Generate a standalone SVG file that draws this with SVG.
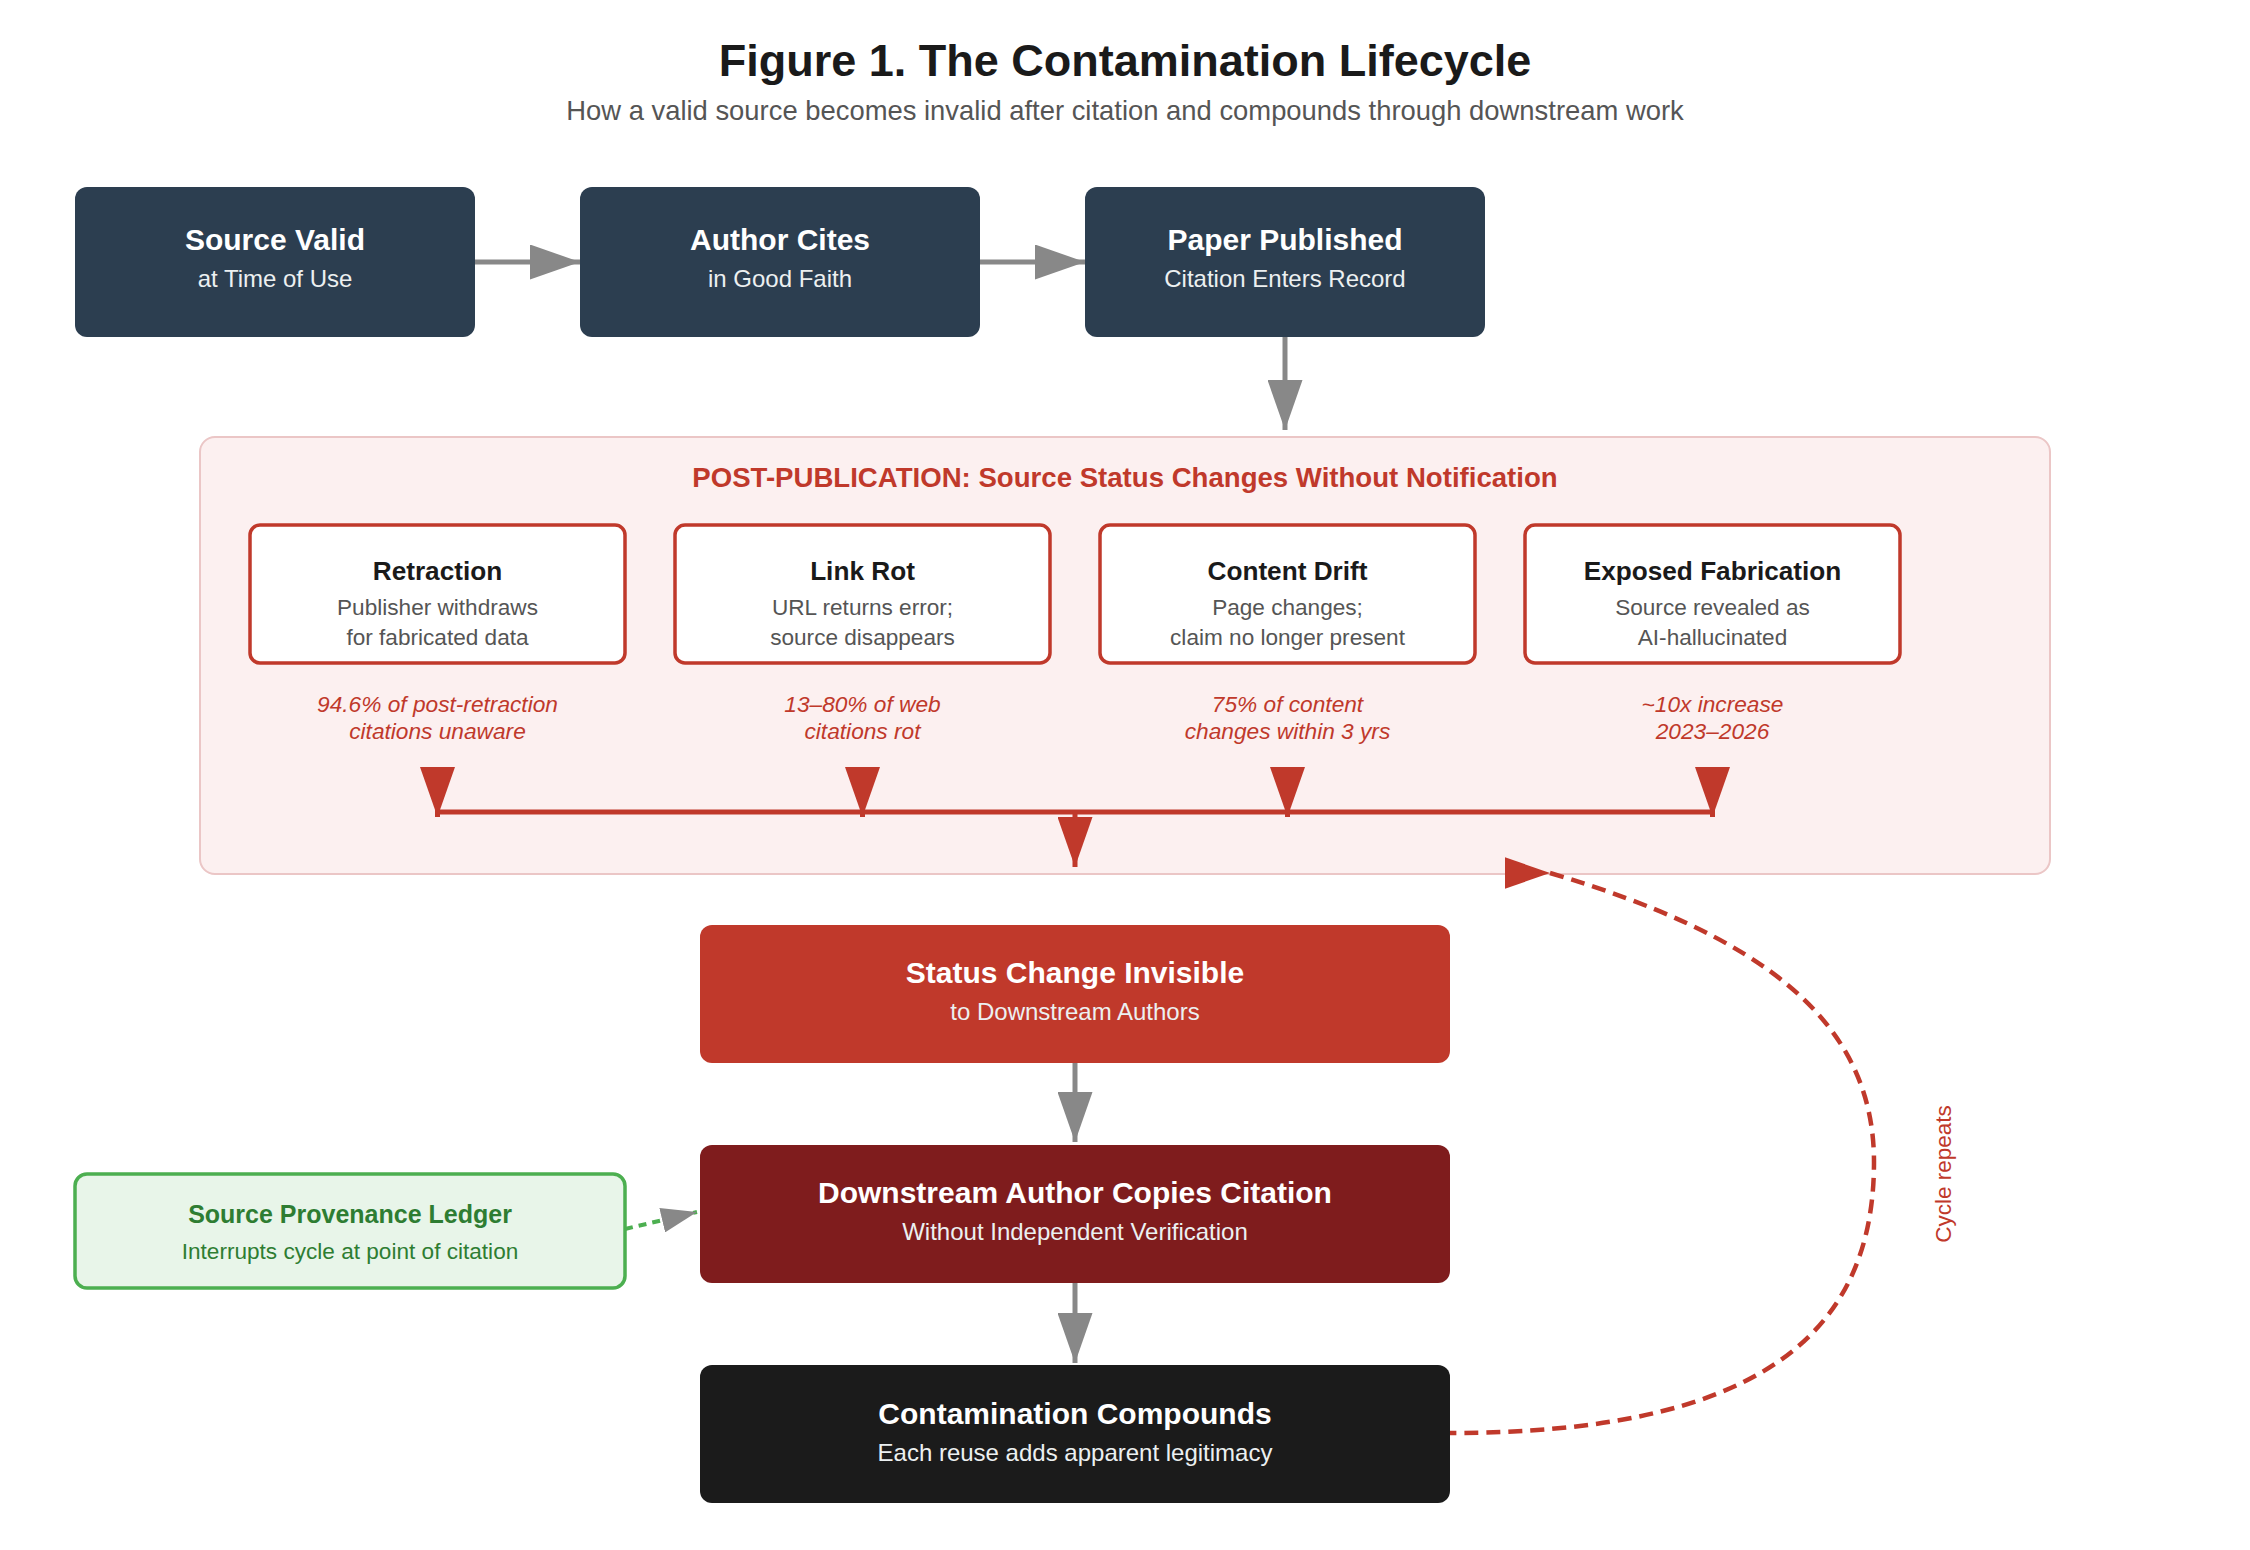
<svg xmlns="http://www.w3.org/2000/svg" width="2250" height="1550" viewBox="0 0 2250 1550">
  <style>
    text { font-family: "Liberation Sans", Arial, sans-serif; text-anchor: middle; }
    .title { font-size: 45px; font-weight: bold; fill: #1a1a1a; }
    .subtitle { font-size: 27.4px; fill: #555555; }
    .dark { fill: #2c3e50; }
    .bt { font-size: 30px; font-weight: bold; fill: #ffffff; }
    .bs { font-size: 24px; fill: #ecf0f1; }
    .panel { fill: #fcf0f0; stroke: #ebc6c6; stroke-width: 2; }
    .phead { font-size: 27.6px; font-weight: bold; fill: #c0392b; }
    .sbox { fill: #ffffff; stroke: #c0392b; stroke-width: 3.5; }
    .st { font-size: 26.2px; font-weight: bold; fill: #1a1a1a; }
    .sd { font-size: 22.6px; fill: #555555; }
    .stat { font-size: 22.7px; font-style: italic; fill: #c0392b; }
    .gray { fill: none; stroke: #888888; stroke-width: 5; }
    .red { fill: none; stroke: #c0392b; stroke-width: 5; }
  </style>
  <defs>
    <marker id="ah-gray" viewBox="0 0 10 7" markerWidth="50" markerHeight="35" markerUnits="userSpaceOnUse" refX="10" refY="3.5" orient="auto">
      <path d="M0,0 L10,3.5 L0,7 z" fill="#888888"/>
    </marker>
    <marker id="ah-gray-s" viewBox="0 0 10 7" markerWidth="36" markerHeight="25" markerUnits="userSpaceOnUse" refX="10" refY="3.5" orient="auto">
      <path d="M0,0 L10,3.5 L0,7 z" fill="#888888"/>
    </marker>
    <marker id="ah-red" viewBox="0 0 10 7" markerWidth="50" markerHeight="35" markerUnits="userSpaceOnUse" refX="10" refY="3.5" orient="auto">
      <path d="M0,0 L10,3.5 L0,7 z" fill="#c0392b"/>
    </marker>
    <marker id="ah-red-cycle" viewBox="0 0 10 7" markerWidth="45" markerHeight="35" markerUnits="userSpaceOnUse" refX="10" refY="3.5" orient="0">
      <path d="M0,0 L10,3.5 L0,7 z" fill="#c0392b"/>
    </marker>
  </defs>

  <rect width="2250" height="1550" fill="#ffffff"/>

  <text class="title" x="1125" y="76">Figure 1. The Contamination Lifecycle</text>
  <text class="subtitle" x="1125" y="120">How a valid source becomes invalid after citation and compounds through downstream work</text>

  <g id="panel-post-publication">
    <rect class="panel" x="200" y="437" width="1850" height="437" rx="15"/>
    <text class="phead" x="1125" y="487">POST-PUBLICATION: Source Status Changes Without Notification</text>
  </g>

  <g id="node-source-valid">
    <rect class="dark" x="75" y="187" width="400" height="150" rx="12"/>
    <text class="bt" x="275" y="250">Source Valid</text>
    <text class="bs" x="275" y="287">at Time of Use</text>
  </g>
  <g id="node-author-cites">
    <rect class="dark" x="580" y="187" width="400" height="150" rx="12"/>
    <text class="bt" x="780" y="250">Author Cites</text>
    <text class="bs" x="780" y="287">in Good Faith</text>
  </g>
  <g id="node-paper-published">
    <rect class="dark" x="1085" y="187" width="400" height="150" rx="12"/>
    <text class="bt" x="1285" y="250">Paper Published</text>
    <text class="bs" x="1285" y="287">Citation Enters Record</text>
  </g>

  <g id="node-retraction">
    <rect class="sbox" x="250" y="525" width="375" height="138" rx="10"/>
    <text class="st" x="437.5" y="580">Retraction</text>
    <text class="sd" x="437.5" y="615">Publisher withdraws</text>
    <text class="sd" x="437.5" y="645">for fabricated data</text>
    <text class="stat" x="437.5" y="712">94.6% of post-retraction</text>
    <text class="stat" x="437.5" y="739">citations unaware</text>
  </g>
  <g id="node-link-rot">
    <rect class="sbox" x="675" y="525" width="375" height="138" rx="10"/>
    <text class="st" x="862.5" y="580">Link Rot</text>
    <text class="sd" x="862.5" y="615">URL returns error;</text>
    <text class="sd" x="862.5" y="645">source disappears</text>
    <text class="stat" x="862.5" y="712">13–80% of web</text>
    <text class="stat" x="862.5" y="739">citations rot</text>
  </g>
  <g id="node-content-drift">
    <rect class="sbox" x="1100" y="525" width="375" height="138" rx="10"/>
    <text class="st" x="1287.5" y="580">Content Drift</text>
    <text class="sd" x="1287.5" y="615">Page changes;</text>
    <text class="sd" x="1287.5" y="645">claim no longer present</text>
    <text class="stat" x="1287.5" y="712">75% of content</text>
    <text class="stat" x="1287.5" y="739">changes within 3 yrs</text>
  </g>
  <g id="node-exposed-fabrication">
    <rect class="sbox" x="1525" y="525" width="375" height="138" rx="10"/>
    <text class="st" x="1712.5" y="580">Exposed Fabrication</text>
    <text class="sd" x="1712.5" y="615">Source revealed as</text>
    <text class="sd" x="1712.5" y="645">AI-hallucinated</text>
    <text class="stat" x="1712.5" y="712">~10x increase</text>
    <text class="stat" x="1712.5" y="739">2023–2026</text>
  </g>

  <g id="node-status-invisible">
    <rect x="700" y="925" width="750" height="138" rx="12" fill="#c0392b"/>
    <text class="bt" x="1075" y="983">Status Change Invisible</text>
    <text class="bs" x="1075" y="1020">to Downstream Authors</text>
  </g>
  <g id="node-downstream-copies">
    <rect x="700" y="1145" width="750" height="138" rx="12" fill="#7f1c1d"/>
    <text class="bt" x="1075" y="1203">Downstream Author Copies Citation</text>
    <text class="bs" x="1075" y="1240">Without Independent Verification</text>
  </g>
  <g id="node-contamination">
    <rect x="700" y="1365" width="750" height="138" rx="12" fill="#1b1b1b"/>
    <text class="bt" x="1075" y="1424">Contamination Compounds</text>
    <text class="bs" x="1075" y="1461">Each reuse adds apparent legitimacy</text>
  </g>
  <g id="node-provenance-ledger">
    <rect x="75" y="1174" width="550" height="114" rx="12" fill="#e8f5e9" stroke="#4caf50" stroke-width="3.5"/>
    <text x="350" y="1223" font-size="25px" font-weight="bold" fill="#2e7d32">Source Provenance Ledger</text>
    <text x="350" y="1259" font-size="22.6px" fill="#2e7d32">Interrupts cycle at point of citation</text>
  </g>

  <g id="connectors">
    <path class="gray" d="M475,262 L580,262" marker-end="url(#ah-gray)"/>
    <path class="gray" d="M980,262 L1085,262" marker-end="url(#ah-gray)"/>
    <path class="gray" d="M1285,337 L1285,430" marker-end="url(#ah-gray)"/>

    <path class="red" d="M437.5,767 L437.5,817" marker-end="url(#ah-red)"/>
    <path class="red" d="M862.5,767 L862.5,817" marker-end="url(#ah-red)"/>
    <path class="red" d="M1287.5,767 L1287.5,817" marker-end="url(#ah-red)"/>
    <path class="red" d="M1712.5,767 L1712.5,817" marker-end="url(#ah-red)"/>
    <path class="red" d="M437.5,812 L1712.5,812"/>
    <path class="red" d="M1075,812 L1075,867" marker-end="url(#ah-red)"/>

    <path class="gray" d="M1075,1063 L1075,1142" marker-end="url(#ah-gray)"/>
    <path class="gray" d="M1075,1283 L1075,1363" marker-end="url(#ah-gray)"/>

    <path d="M625,1229 L697,1212" fill="none" stroke="#4caf50" stroke-width="4" stroke-dasharray="8,6" marker-end="url(#ah-gray-s)"/>

    <path d="M1550,873 C1760,935 1874,1020 1874,1162 C1874,1340 1750,1433 1450,1433" fill="none" stroke="#c0392b" stroke-width="4.5" stroke-dasharray="14,8" marker-start="url(#ah-red-cycle)"/>
    <text x="1951" y="1174" transform="rotate(-90 1951 1174)" font-size="22.5px" fill="#c0392b">Cycle repeats</text>
  </g>
</svg>
